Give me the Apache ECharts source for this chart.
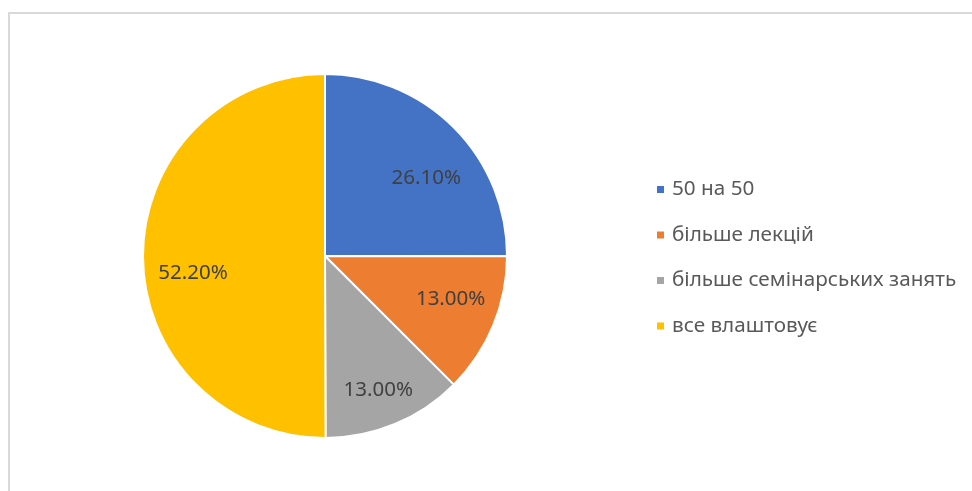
<!DOCTYPE html>
<html>
<head>
<meta charset="utf-8">
<script src="https://cdn.jsdelivr.net/npm/echarts@6/dist/echarts.min.js"></script>
<style>
  html, body { margin: 0; padding: 0; background: #fff; }
  #main { width: 972px; height: 491px; }
</style>
</head>
<body>
<div id="main"></div>
<script>
// категорії та значення (у відсотках, як на підписах)
const categories = ['50 на 50', 'більше лекцій', 'більше семінарських занять', 'все влаштовує'];
const values = [26.1, 13.0, 13.0, 52.2];
const colors = ['#4472C4', '#ED7D31', '#A5A5A5', '#FFC000'];

const pieData = categories.map((name, i) => ({ name: name, value: values[i] }));

// невеликі зсуви підписів, як у "best fit" Excel
const labelShift = [[5, 18], [0, -9], [1, 9], [4, 17]];

const chart = echarts.init(document.getElementById('main'), null, { renderer: 'canvas' });

const option = {
  animation: false,
  color: colors,
  textStyle: { fontFamily: 'Noto Sans' },
  graphic: [
    {
      type: 'rect',
      shape: { x: 9, y: 13, width: 1000, height: 600 },
      style: { fill: 'none', stroke: '#d9d9d9', lineWidth: 2 },
      silent: true
    }
  ],
  legend: {
    orient: 'vertical',
    left: 650,
    top: 173,
    itemWidth: 9,
    itemHeight: 9,
    itemGap: 22.5,
    icon: 'rect',
    data: categories,
    textStyle: { color: '#595959', fontSize: 20.7, fontFamily: 'Noto Sans', lineHeight: 23, padding: [0, 0, 0, 2] }
  },
  series: [
    {
      // сам пиріг
      type: 'pie',
      center: [325, 256],
      radius: [0, 182],
      startAngle: 90,
      clockwise: true,
      silent: true,
      itemStyle: { borderColor: '#fff', borderWidth: 2 },
      label: { show: false },
      labelLine: { show: false },
      data: pieData
    },
    {
      // прозорий пиріг тільки для підписів (щоб вони стояли ближче до краю)
      type: 'pie',
      center: [325, 256],
      radius: [0, 266],
      startAngle: 90,
      clockwise: true,
      silent: true,
      itemStyle: { color: 'rgba(0,0,0,0)' },
      label: {
        show: true,
        position: 'inside',
        color: '#404040',
        fontSize: 20.5,
        fontFamily: 'Noto Sans',
        formatter: p => p.value.toFixed(2) + '%'
      },
      labelLayout: p => ({ dx: labelShift[p.dataIndex][0], dy: labelShift[p.dataIndex][1] }),
      labelLine: { show: false },
      data: pieData
    }
  ]
};

chart.setOption(option);
</script>
</body>
</html>
